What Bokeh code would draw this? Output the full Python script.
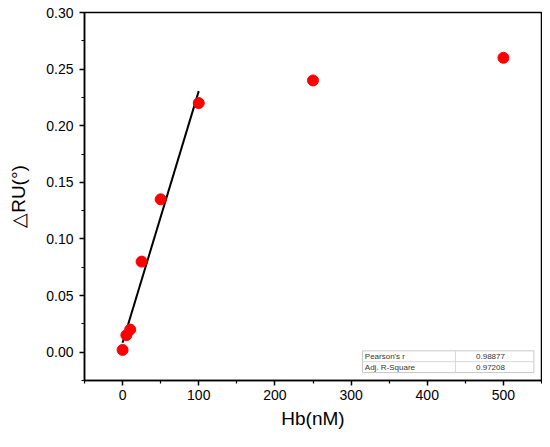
from bokeh.plotting import figure
from bokeh.models import Range1d, FixedTicker, NumeralTickFormatter, Label
from bokeh.embed import file_html
from bokeh.resources import INLINE
import numpy as np

# ---- data ----
hb = [0, 5, 10, 25, 50, 100, 250, 500]
dru = [0.002, 0.015, 0.020, 0.080, 0.135, 0.220, 0.240, 0.260]
fit_count = 6  # first points used for the linear fit
stat_names = ["Pearson's r", "Adj. R-Square"]
stat_values = ["0.98877", "0.97208"]
x_ticks = [0, 100, 200, 300, 400, 500]
x_minor = [-50, 50, 150, 250, 350, 450, 550]
y_ticks = [0.00, 0.05, 0.10, 0.15, 0.20, 0.25, 0.30]
y_minor = [-0.025, 0.025, 0.075, 0.125, 0.175, 0.225, 0.275]

slope, intercept = np.polyfit(hb[:fit_count], dru[:fit_count], 1)
fit_x = [hb[0], hb[fit_count - 1]]
fit_y = [slope * x + intercept for x in fit_x]

FONT = "Liberation Sans"

p = figure(width=542, height=431, output_backend="svg", toolbar_location=None,
           x_range=Range1d(-50, 550), y_range=Range1d(-0.025, 0.30),
           min_border_left=84, min_border_right=1, min_border_top=12, min_border_bottom=51)
p.grid.visible = False
p.outline_line_color = "black"
p.outline_line_width = 1.5
p.background_fill_color = "white"

for ax in (p.xaxis[0], p.yaxis[0]):
    ax.axis_line_width = 1.5
    ax.major_tick_line_width = 1.5
    ax.minor_tick_line_width = 1.2
    ax.major_tick_out = 5
    ax.major_tick_in = 0
    ax.minor_tick_out = 3
    ax.minor_tick_in = 0
    ax.major_label_text_font = FONT
    ax.major_label_text_font_size = "14px"
    ax.major_label_text_color = "black"
    ax.axis_label_text_font = FONT
    ax.axis_label_text_font_size = "19px"
    ax.axis_label_text_font_style = "normal"
    ax.axis_label_text_color = "black"

p.xaxis.ticker = FixedTicker(ticks=x_ticks, minor_ticks=x_minor)
p.yaxis.ticker = FixedTicker(ticks=y_ticks, minor_ticks=y_minor)
p.yaxis.formatter = NumeralTickFormatter(format="0.00")
p.xaxis.axis_label = "Hb(nM)"
p.yaxis.axis_label = "△RU(°)"
p.xaxis.major_label_standoff = 4
p.xaxis.axis_label_standoff = 5
p.yaxis.major_label_standoff = 6
p.yaxis.axis_label_standoff = 14

p.line(fit_x, fit_y, line_color="black", line_width=2)
p.scatter(hb, dru, size=11, fill_color="#ff0000", line_color="#ff0000")

# statistics table (bottom right)
p.quad(left=[315], right=[540], top=[0.0012], bottom=[-0.0180],
       fill_color="white", line_color="#c8c8c8", line_width=1)
p.segment(x0=[315, 437], y0=[-0.0084, 0.0012], x1=[540, 437], y1=[-0.0084, -0.0180],
          line_color="#d8d8d8", line_width=1)
row_y = [-0.0036, -0.0132]
for name, val, yy in zip(stat_names, stat_values, row_y):
    p.add_layout(Label(x=318, y=yy, text=name, text_font=FONT, text_font_size="8px",
                       text_baseline="middle", text_align="left", text_color="#333333"))
    p.add_layout(Label(x=483, y=yy, text=val, text_font=FONT, text_font_size="8px",
                       text_baseline="middle", text_align="center", text_color="#333333"))

open("out.html", "w").write(file_html(p, INLINE))
